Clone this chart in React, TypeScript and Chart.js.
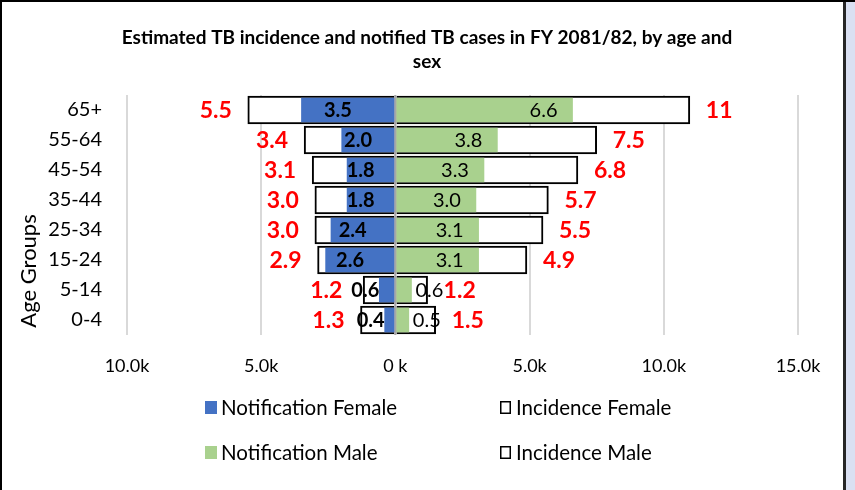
import React, { useEffect, useRef } from "react";
import { Chart, registerables } from "chart.js";

Chart.register(...registerables);

const ageGroups = ["65+", "55-64", "45-54", "35-44", "25-34", "15-24", "5-14", "0-4"];
const notificationFemale = [3500, 2000, 1800, 1800, 2400, 2600, 600, 400];
const incidenceFemale = [5500, 3400, 3100, 3000, 3000, 2900, 1200, 1300];
const notificationMale = [6600, 3800, 3300, 3000, 3100, 3100, 600, 500];
const incidenceMale = [10970, 7500, 6800, 5700, 5500, 4900, 1200, 1500];
const xTickValues = [-10000, -5000, 0, 5000, 10000, 15000];
const xTickLabels = ["10.0k", "5.0k", "0 k", "5.0k", "10.0k", "15.0k"];
const titleLines = [
  "Estimated TB incidence and notified TB cases in FY 2081/82, by age and",
  "sex",
];
const yAxisTitle = "Age Groups";
const seriesLabels = ["Notification Female", "Incidence Female", "Notification Male", "Incidence Male"];

const FONT = "Lato, 'Noto Sans', sans-serif";
const BLUE = "#4472c4";
const GREEN = "#a9d18e";
const RED = "#ff0000";

const fmt = (v: number) => {
  const k = Math.abs(v) / 1000;
  return k >= 10 ? k.toFixed(0) : k.toFixed(1);
};

export default function App() {
  const ref = useRef<HTMLCanvasElement>(null);

  useEffect(() => {
    const canvas = ref.current;
    if (!canvas) return;

    const overlay = {
      id: "overlay",
      afterDatasetsDraw(chart: any) {
        const ctx = chart.ctx as CanvasRenderingContext2D;
        const xs = chart.scales.x;
        const area = chart.chartArea;
        const zeroX = xs.getPixelForValue(0);
        ctx.save();
        ctx.strokeStyle = "#a6a6a6";
        ctx.lineWidth = 2;
        ctx.beginPath();
        ctx.moveTo(zeroX, area.top);
        ctx.lineTo(zeroX, area.bottom);
        ctx.stroke();

        const nf = chart.getDatasetMeta(0);
        const inf = chart.getDatasetMeta(1);
        const nm = chart.getDatasetMeta(2);
        const im = chart.getDatasetMeta(3);
        ctx.textBaseline = "middle";

        for (let i = 0; i < ageGroups.length; i++) {
          // Female notification
          const fb = nf.data[i].getProps(["x", "y", "base"], true);
          const ftxt = fmt(notificationFemale[i]);
          ctx.font = `bold 20px ${FONT}`;
          const fw = ctx.measureText(ftxt).width;
          const fBarW = fb.base - fb.x;
          let fLabelLeft = Infinity;
          let fOutside = false;
          ctx.fillStyle = "#000";
          if (fBarW >= fw + 8) {
            ctx.textAlign = "center";
            ctx.fillText(ftxt, (fb.x + fb.base) / 2 - 10, fb.y + 1);
          } else {
            fOutside = true;
            ctx.textAlign = "right";
            ctx.fillText(ftxt, fb.x, fb.y + 1);
            fLabelLeft = fb.x - fw;
          }
          // Female incidence
          const ib = inf.data[i].getProps(["x", "y"], true);
          ctx.font = `bold 23px ${FONT}`;
          ctx.fillStyle = RED;
          ctx.textAlign = "right";
          let redRight = ib.x - 16;
          if (fOutside) redRight = Math.min(redRight, fLabelLeft - 9);
          ctx.fillText(fmt(incidenceFemale[i]), redRight, ib.y + 1);

          // Male notification
          const mb = nm.data[i].getProps(["x", "y", "base"], true);
          const mtxt = fmt(notificationMale[i]);
          ctx.font = `20px ${FONT}`;
          const mw = ctx.measureText(mtxt).width;
          const mBarW = mb.x - mb.base;
          ctx.fillStyle = "#000";
          if (mBarW >= mw + 20) {
            ctx.textAlign = "right";
            ctx.fillText(mtxt, mb.x - 15, mb.y + 1);
          } else {
            ctx.textAlign = "left";
            ctx.fillText(mtxt, mb.x + 4, mb.y + 1);
          }
          // Male incidence
          const jb = im.data[i].getProps(["x", "y"], true);
          ctx.font = `bold 23px ${FONT}`;
          ctx.fillStyle = RED;
          ctx.textAlign = "left";
          ctx.fillText(fmt(incidenceMale[i]), jb.x + 16, jb.y + 1);
        }
        ctx.restore();
      },
      afterDraw(chart: any) {
        const ctx = chart.ctx as CanvasRenderingContext2D;
        ctx.save();
        // Title
        ctx.fillStyle = "#000";
        ctx.textAlign = "center";
        ctx.textBaseline = "middle";
        ctx.font = `bold 19px ${FONT}`;
        titleLines.forEach((line, k) => ctx.fillText(line, 427, 38 + k * 24));

        // Y axis title
        ctx.save();
        ctx.translate(29, 271);
        ctx.rotate(-Math.PI / 2);
        ctx.font = `22px ${FONT}`;
        ctx.fillText(yAxisTitle, 0, 0);
        ctx.restore();

        // Legend (2 x 2)
        const cols = [205, 500];
        const rows = [407, 452];
        chart.data.datasets.forEach((ds: any, k: number) => {
          const cx = cols[k % 2];
          const cy = rows[Math.floor(k / 2)];
          if (ds.borderWidth > 0) {
            ctx.fillStyle = "#fff";
            ctx.fillRect(cx, cy - 6, 11, 13);
            ctx.strokeStyle = "#000";
            ctx.lineWidth = 1.5;
            ctx.strokeRect(cx + 0.75, cy - 5.25, 9.5, 11.5);
          } else {
            ctx.fillStyle = ds.backgroundColor;
            ctx.fillRect(cx, cy - 6, 12, 13);
          }
          ctx.fillStyle = "#000";
          ctx.textAlign = "left";
          ctx.textBaseline = "middle";
          ctx.font = `20.5px ${FONT}`;
          ctx.fillText(ds.label, cx + 16, cy + 1);
        });
        ctx.restore();
      },
    };

    const chart = new Chart(canvas, {
      type: "bar",
      data: {
        labels: ageGroups,
        datasets: [
          {
            label: seriesLabels[0],
            data: notificationFemale.map((v) => -v),
            backgroundColor: BLUE,
            borderWidth: 0,
            barThickness: 24,
            grouped: false,
            order: 0,
          },
          {
            label: seriesLabels[1],
            data: incidenceFemale.map((v) => -v),
            backgroundColor: "#ffffff",
            borderColor: "#000000",
            borderWidth: 2,
            barThickness: 28,
            grouped: false,
            order: 1,
          },
          {
            label: seriesLabels[2],
            data: notificationMale,
            backgroundColor: GREEN,
            borderWidth: 0,
            barThickness: 24,
            grouped: false,
            order: 0,
          },
          {
            label: seriesLabels[3],
            data: incidenceMale,
            backgroundColor: "#ffffff",
            borderColor: "#000000",
            borderWidth: 2,
            barThickness: 28,
            grouped: false,
            order: 1,
          },
        ] as any,
      },
      options: {
        responsive: false,
        animation: false,
        indexAxis: "y",
        layout: { padding: { top: 95, right: 57, left: 0, bottom: 0 } },
        plugins: {
          legend: { display: false },
          title: { display: false },
          tooltip: { enabled: false },
        },
        scales: {
          x: {
            type: "linear",
            min: xTickValues[0],
            max: xTickValues[xTickValues.length - 1],
            afterBuildTicks: (s: any) => {
              s.ticks = xTickValues.map((v) => ({ value: v }));
            },
            afterFit: (s: any) => {
              s.height = 155;
            },
            ticks: {
              callback: (_v: any, i: number) => xTickLabels[i],
              font: { family: FONT, size: 18 },
              color: "#000",
              padding: 20,
              maxRotation: 0,
              autoSkip: false,
            },
            grid: { color: "#d9d9d9", lineWidth: 2, drawTicks: false },
            border: { display: false },
          },
          y: {
            type: "category",
            afterFit: (s: any) => {
              s.width = 127;
            },
            ticks: {
              font: { family: FONT, size: 20 },
              color: "#000",
              padding: 25,
            },
            grid: { display: false, drawTicks: false },
            border: { display: false },
          },
        } as any,
      },
      plugins: [overlay],
    });
    return () => chart.destroy();
  }, []);

  return (
    <div
      style={{
        position: "absolute",
        left: 0,
        top: 0,
        width: 855,
        height: 490,
        background: "#dae0f2",
        overflow: "hidden",
      }}
    >
      <div
        style={{
          position: "absolute",
          left: 0,
          top: 0,
          width: 846,
          height: 490,
          background: "#fff",
          borderLeft: "2px solid #000",
          borderRight: "3px solid #262626",
          boxSizing: "border-box",
        }}
      />
      <div style={{ position: "absolute", left: 0, top: 0, width: 855, height: 2, background: "#000" }} />
      <canvas ref={ref} width={855} height={490} style={{ position: "absolute", left: 0, top: 0 }} />
    </div>
  );
}
